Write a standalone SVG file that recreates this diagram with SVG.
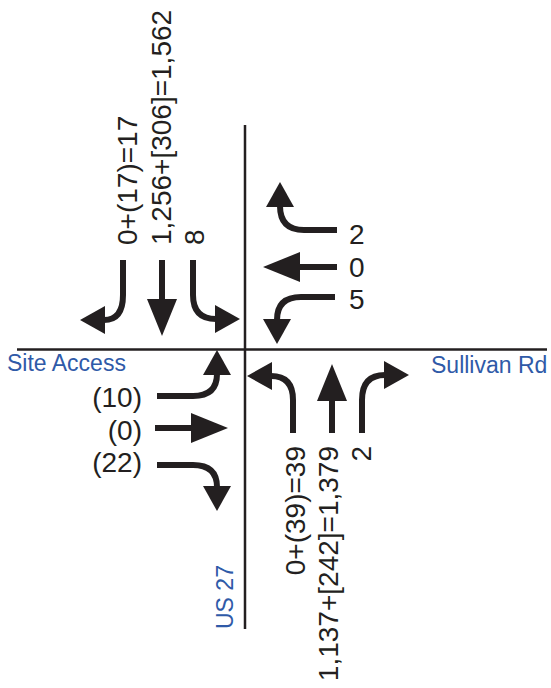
<svg xmlns="http://www.w3.org/2000/svg" width="551" height="688" viewBox="0 0 551 688">
<style>
.road{stroke:#231f20;stroke-width:2.5;fill:none}
.arr{stroke:#231f20;stroke-width:6;fill:none}
.turn{marker-end:url(#headTurn)}
.thru{marker-end:url(#headThru)}
.vol{font-family:"Liberation Sans",Arial,sans-serif;font-size:28px;fill:#231f20}
.name{font-family:"Liberation Sans",Arial,sans-serif;font-size:23px;fill:#2f5aa8}
</style>
<defs>
<marker id="headTurn" markerUnits="userSpaceOnUse" markerWidth="25" markerHeight="28" refX="1" refY="14" orient="auto" overflow="visible">
<polygon points="0,0 25,14 0,28" fill="#231f20"/>
</marker>
<marker id="headThru" markerUnits="userSpaceOnUse" markerWidth="37" markerHeight="30" refX="1" refY="15" orient="auto" overflow="visible">
<polygon points="0,0 37,15 0,30" fill="#231f20"/>
</marker>
</defs>
<g id="roads">
<line class="road" x1="245" y1="125" x2="245" y2="629"/>
<line class="road" x1="17" y1="349.5" x2="547" y2="349.5"/>
</g>
<g id="connectors">
<path class="arr turn" d="M123,260 V295 Q123,320 104,320"/>
<path class="arr thru" d="M162,260 V300"/>
<path class="arr turn" d="M193,260 V295 Q193,319 216,319"/>
<path class="arr turn" d="M157,396 H193 Q217,396 217,374"/>
<path class="arr thru" d="M155,428 H192"/>
<path class="arr turn" d="M157,465 H193 Q217,465 217,487"/>
<path class="arr turn" d="M293,433 V400 Q293,376 271,376"/>
<path class="arr thru" d="M332,433 V400"/>
<path class="arr turn" d="M362,433 V400 Q362,375 385,375"/>
<path class="arr turn" d="M337,230 H304 Q280,230 280,206"/>
<path class="arr thru" d="M337,267 H299"/>
<path class="arr turn" d="M335,297 H301 Q277,297 277,320"/>
</g>
<g id="southbound-labels">
<text class="vol" transform="translate(137,245) rotate(-90)">0+(17)=17</text>
<text class="vol" transform="translate(171,245) rotate(-90)">1,256+[306]=1,562</text>
<text class="vol" transform="translate(204,245) rotate(-90)">8</text>
</g>
<g id="westbound-labels">
<text class="vol" x="349" y="244">2</text>
<text class="vol" x="349" y="277">0</text>
<text class="vol" x="349" y="309">5</text>
</g>
<g id="eastbound-labels">
<text class="vol" x="142" y="407" text-anchor="end">(10)</text>
<text class="vol" x="142" y="440" text-anchor="end">(0)</text>
<text class="vol" x="142" y="472" text-anchor="end">(22)</text>
</g>
<g id="northbound-labels">
<text class="vol" text-anchor="end" transform="translate(305,446) rotate(-90)">0+(39)=39</text>
<text class="vol" text-anchor="end" transform="translate(338,446) rotate(-90)">1,137+[242]=1,379</text>
<text class="vol" text-anchor="end" transform="translate(371,446) rotate(-90)">2</text>
</g>
<g id="street-names">
<text class="name" x="7" y="371">Site Access</text>
<text class="name" x="431" y="373">Sullivan Rd</text>
<text class="name" transform="translate(233,629) rotate(-90)">US 27</text>
</g>
</svg>
